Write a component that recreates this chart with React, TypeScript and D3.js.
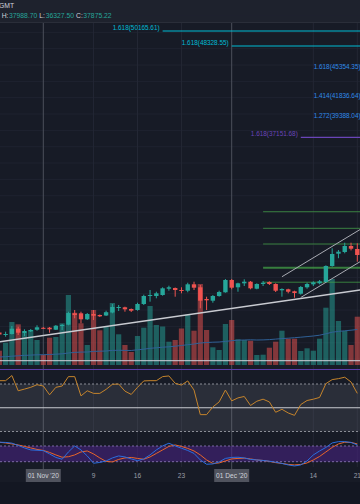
import React from "react";
import * as d3 from "d3";

// daily BTC candles, first one is 25 Oct 2020
const START = "2020-10-25";
const open = [13253, 12947, 13069, 13718, 13192, 13400, 13596, 13828, 13841, 13596, 14049, 14208, 15604, 15604, 14869, 15518, 15396, 15334, 15702, 16253, 16338, 16130, 16008, 16742, 17722, 17722, 17844, 18615, 18701, 18456, 18371, 19154, 18787, 17354, 17146, 17722, 18175, 19681, 18787, 19277, 19472, 18615, 19191, 19436, 19191, 18420, 18542, 18297, 18003, 18787, 19154, 19277, 19436, 21395, 22901, 23109, 23844, 23476];
const high = [13437, 13351, 14049, 13964, 13645, 13682, 14135, 13926, 13926, 14171, 14294, 15800, 16008, 15800, 15640, 16008, 15457, 15922, 16742, 16620, 16412, 16191, 16901, 17881, 18456, 18248, 18787, 18983, 18762, 18787, 19350, 19472, 19068, 17636, 17844, 18371, 19803, 19803, 19350, 19767, 19558, 19277, 19558, 19521, 19277, 18664, 18615, 18371, 18946, 19350, 19521, 19681, 21481, 23562, 23354, 24248, 24248, 24175];
const low = [12825, 12739, 13008, 12947, 12825, 13314, 13474, 13682, 13229, 13559, 13559, 14135, 14992, 14379, 14783, 14783, 15151, 15273, 15604, 15885, 15800, 15763, 15922, 16620, 17024, 17440, 17758, 18371, 17636, 18052, 18175, 18456, 16216, 16008, 16901, 17636, 18126, 18542, 18248, 18946, 18542, 18542, 18946, 19068, 18211, 17636, 18052, 17514, 17881, 18615, 18946, 19154, 19399, 21309, 22348, 22950, 23305, 21922];
const close = [13008, 13069, 13718, 13229, 13437, 13559, 13890, 13767, 13645, 14086, 14171, 15640, 15396, 14869, 15518, 15310, 15236, 15738, 16375, 16375, 16093, 15922, 16742, 17722, 17844, 18052, 18664, 18787, 18456, 18371, 19154, 18738, 17146, 17195, 17722, 18211, 19681, 18738, 19277, 19472, 18664, 19191, 19350, 19191, 18371, 18579, 18248, 18089, 18824, 19191, 19399, 19521, 21395, 22864, 23146, 23844, 23513, 22742];
const volume = [14.3, 22.3, 43, 40.7, 32.3, 35, 25, 10, 27.3, 28, 41.7, 70, 52.3, 41.7, 20, 55, 34.7, 38.7, 62, 30.7, 20, 13, 29, 37.3, 59, 40, 38.5, 23.3, 25, 36.5, 50.5, 34.3, 81, 35, 17.7, 15, 41, 45, 25.7, 25, 24.3, 10, 10.3, 17.3, 23.3, 34.3, 26.3, 26.3, 14, 16.7, 14.3, 26.3, 57.3, 86, 44, 34, 20, 48.3];
const volumeMA = [8.0, 8.3, 8.8, 9.2, 9.6, 9.9, 10.2, 10.3, 10.5, 10.8, 11.2, 12.0, 12.6, 12.9, 13.0, 13.6, 13.8, 14.0, 14.6, 14.7, 14.6, 14.5, 15.2, 15.8, 16.7, 17.2, 17.8, 18.2, 18.8, 19.5, 20.3, 21.0, 22.0, 22.5, 22.8, 23.0, 23.6, 24.3, 24.8, 25.0, 25.2, 25.0, 25.1, 25.4, 25.9, 26.4, 26.8, 27.3, 27.8, 28.4, 29.0, 29.8, 31.2, 32.8, 33.6, 34.2, 34.8, 35.5];
const rsi = [72.8, 72.8, 77.1, 64.3, 65.7, 67.2, 69.4, 68.3, 60.9, 67.2, 68.3, 76.2, 76.2, 60.0, 64.3, 62.1, 62.1, 65.5, 69.7, 70.0, 64.0, 61.2, 67.2, 72.6, 72.8, 72.8, 76.2, 76.8, 70.6, 69.1, 72.6, 64.9, 44.2, 44.2, 50.7, 54.9, 64.9, 55.8, 58.3, 59.5, 51.9, 55.5, 57.2, 54.9, 46.2, 48.7, 45.6, 43.6, 52.7, 56.1, 57.2, 58.7, 70.3, 73.7, 74.5, 75.7, 71.7, 62.1];
const stochK = [94.4, 93.6, 90.9, 82.2, 72.6, 65.0, 63.8, 62.3, 49.7, 36.3, 29.4, 57.3, 80.2, 65.0, 42.0, 14.1, 17.2, 22.9, 34.4, 42.0, 38.2, 30.6, 24.1, 30.6, 45.9, 65.0, 80.2, 90.6, 80.2, 71.5, 63.0, 51.6, 26.7, 10.3, 11.5, 19.1, 32.5, 36.3, 37.1, 34.4, 28.7, 26.7, 24.8, 21.8, 18.0, 13.4, 7.6, 3.8, 7.6, 22.9, 45.9, 61.1, 74.5, 91.7, 96.7, 96.7, 93.6, 84.1];
const stochD = [94.4, 91.7, 87.9, 84.1, 78.3, 72.6, 66.9, 63.0, 55.4, 45.9, 37.1, 39.0, 45.9, 57.3, 61.1, 49.7, 34.4, 21.0, 19.1, 28.7, 34.4, 36.3, 32.5, 29.4, 38.2, 51.6, 65.0, 78.3, 84.1, 78.3, 70.7, 61.1, 45.9, 26.7, 13.4, 15.3, 22.9, 30.6, 32.5, 33.6, 30.6, 26.7, 24.8, 21.0, 16.4, 13.4, 9.6, 7.6, 9.6, 15.3, 26.7, 40.1, 57.3, 74.5, 87.9, 94.4, 93.6, 87.9];

// fib extension levels drawn on the chart
const fibRatios = ["1.618", "1.618", "1.618", "1.414", "1.272", "1.618"];
const fibPrices = [50165.61, 48328.55, 45354.35, 41836.64, 39388.04, 37151.68];
const fibStarts = ["2020-11-20", "2020-12-01", "2020-12-22", "2020-12-22", "2020-12-22", "2020-12-12"];
const fibGroup = ["cyan", "cyan", "blue", "blue", "blue", "purple"];

// retracement levels (green)
const retracePrices = [28040, 26010, 24090, 21190, 19410];
const retraceStart = "2020-12-06";

// trend lines: [date, price] pairs
const supportLine: [string, number][] = [["2020-10-24", 12000], ["2020-12-22", 18520]];
const channelUpper: [string, number][] = [["2020-12-09", 20080], ["2020-12-22", 26120]];
const channelLower: [string, number][] = [["2020-12-12", 17540], ["2020-12-22", 22180]];
const flatLine = 9800;

const tickDates = ["2020-11-01", "2020-11-09", "2020-11-16", "2020-11-23", "2020-12-01", "2020-12-14", "2020-12-21"];
const tickLabels = ["01 Nov '20", "9", "16", "23", "01 Dec '20", "14", "21"];
const monthTicks = ["2020-11-01", "2020-12-01"];

const W = 360;
const H = 504;
const FONT = "'Liberation Sans', Arial, sans-serif";
const UP = "#26a69a";
const DOWN = "#ef5350";
const groupColor: Record<string, string> = { cyan: "#00bcd4", blue: "#2f8ae8", purple: "#6a45b8" };

const parse = d3.utcParse("%Y-%m-%d");
const dt = (s: string) => parse(s) as Date;
const dates = open.map((_, i) => d3.utcDay.offset(dt(START), i));

const x = d3.scaleUtc().domain([dt("2020-11-01"), dt("2020-12-01")]).range([43.3, 231.7]);
const y = d3.scaleLinear().domain([9152, 51268]).range([366, 22]);
const yVol = d3.scaleLinear().domain([0, 100]).range([365, 265]);
const yRsi = d3.scaleLinear().domain([30, 70]).range([431.5, 384]);
const yStoch = d3.scaleLinear().domain([20, 80]).range([461.7, 446]);

const seriesLine = (sy: d3.ScaleLinear<number, number>) =>
  d3.line<number>().x((_, i) => x(dates[i])).y((v) => sy(v));

export default function App() {
  const bodyW = 4.4;
  const volW = 5.2;
  const gridPrices = d3.range(10000, 52001, 2000);
  const weekTicks = tickDates.filter((t) => !monthTicks.includes(t));

  const seg = (pts: [string, number][]) => {
    const [a, b] = pts;
    return { x1: x(dt(a[0])), y1: y(a[1]), x2: x(dt(b[0])), y2: y(b[1]) };
  };

  return (
    <div style={{ position: "absolute", left: 0, top: 0 }}>
      <svg width={W} height={H} style={{ display: "block" }} fontFamily={FONT}>
        <defs>
          <clipPath id="mainClip">
            <rect x={0} y={22} width={W} height={344} />
          </clipPath>
        </defs>
        <rect width={W} height={H} fill="#171b26" />
        <rect width={W} height={22} fill="#1e222d" />
        <line x1={0} x2={W} y1={22.5} y2={22.5} stroke="#2a2e39" />
        <rect y={482} width={W} height={22} fill="#131722" />

        {/* horizontal grid */}
        {gridPrices.map((p) => (
          <line key={p} x1={0} x2={W} y1={y(p)} y2={y(p)} stroke="#1f2330" />
        ))}
        {/* vertical grid */}
        {weekTicks.map((t) => (
          <line key={t} x1={x(dt(t))} x2={x(dt(t))} y1={23} y2={467} stroke="#232734" />
        ))}
        {monthTicks.map((t) => (
          <line key={t} x1={x(dt(t))} x2={x(dt(t))} y1={23} y2={469} stroke="#4c4f5a" />
        ))}

        <g clipPath="url(#mainClip)">
          {/* volume */}
          {volume.map((v, i) => (
            <rect
              key={i}
              x={x(dates[i]) - volW / 2}
              y={yVol(v)}
              width={volW}
              height={yVol(0) - yVol(v)}
              fill={close[i] >= open[i] ? UP : DOWN}
              opacity={0.5}
            />
          ))}
          <path d={seriesLine(yVol)(volumeMA) ?? ""} fill="none" stroke="#2f6096" strokeWidth={1} />
          <line x1={0} x2={W} y1={y(flatLine)} y2={y(flatLine)} stroke="#d1d4dc" strokeWidth={1} />

          {/* retracement */}
          {retracePrices.map((p, i) => (
            <line
              key={p}
              x1={x(dt(retraceStart))}
              x2={W}
              y1={y(p)}
              y2={y(p)}
              stroke="#43a047"
              strokeOpacity={0.75}
              strokeWidth={i === 3 ? 2 : 1}
            />
          ))}

          {/* trend lines */}
          <line {...seg(supportLine)} stroke="#c9cbd1" strokeWidth={1.3} />
          <line {...seg(channelUpper)} stroke="#a9abb3" strokeWidth={1} />
          <line {...seg(channelLower)} stroke="#a9abb3" strokeWidth={1} />

          {/* candles */}
          {open.map((o, i) => {
            const c = close[i];
            const col = c >= o ? UP : DOWN;
            const cx = x(dates[i]);
            const top = y(Math.max(o, c));
            const bh = Math.max(1, y(Math.min(o, c)) - top);
            return (
              <g key={i}>
                <line x1={cx} x2={cx} y1={y(high[i])} y2={y(low[i])} stroke={col} strokeWidth={1} />
                <rect x={cx - bodyW / 2} y={top} width={bodyW} height={bh} fill={col} />
              </g>
            );
          })}

          {/* fib extensions */}
          {fibPrices.map((p, i) => {
            const col = groupColor[fibGroup[i]];
            const sx = x(dt(fibStarts[i]));
            return (
              <g key={p}>
                <line x1={sx} x2={W} y1={y(p)} y2={y(p)} stroke={col} strokeWidth={1.2} />
                <text x={sx - 3} y={y(p) - 1.2} textAnchor="end" fontSize={6.4} fill={col}>
                  {`${fibRatios[i]}(${p.toFixed(2)})`}
                </text>
              </g>
            );
          })}
        </g>

        {/* RSI pane */}
        <line x1={0} x2={W} y1={369.5} y2={369.5} stroke="#5b3fa8" strokeWidth={1} />
        <rect x={0} y={yRsi(70)} width={W} height={yRsi(30) - yRsi(70)} fill="#787b86" opacity={0.2} />
        <line x1={0} x2={W} y1={yRsi(70)} y2={yRsi(70)} stroke="#8a8d96" strokeDasharray="2,2" />
        <line x1={0} x2={W} y1={yRsi(30)} y2={yRsi(30)} stroke="#8a8d96" strokeDasharray="2,2" />
        <line x1={0} x2={W} y1={yRsi(50)} y2={yRsi(50)} stroke="#c9cbd1" strokeWidth={1} />
        <path d={seriesLine(yRsi)(rsi) ?? ""} fill="none" stroke="#c5842c" strokeWidth={1} />

        {/* Stoch RSI pane */}
        <rect x={0} y={yStoch(80)} width={W} height={yStoch(20) - yStoch(80)} fill="#4a2386" opacity={0.55} />
        <line x1={0} x2={W} y1={yStoch(80)} y2={yStoch(80)} stroke="#7d6aa6" strokeDasharray="2,2" />
        <line x1={0} x2={W} y1={yStoch(20)} y2={yStoch(20)} stroke="#7d6aa6" strokeDasharray="2,2" />
        <path d={seriesLine(yStoch)(stochD) ?? ""} fill="none" stroke="#e8652a" strokeWidth={1} />
        <path d={seriesLine(yStoch)(stochK) ?? ""} fill="none" stroke="#2a6ee0" strokeWidth={1} />

        {/* time axis */}
        {tickDates.map((t, i) => {
          const tx = x(dt(t));
          const boxed = monthTicks.includes(t);
          return (
            <g key={t}>
              {boxed && <rect x={tx - 17.5} y={469} width={35} height={13} fill="#50535e" />}
              <text x={tx} y={478} textAnchor="middle" fontSize={6.6} fill={boxed ? "#d1d4dc" : "#9a9da6"}>
                {tickLabels[i]}
              </text>
            </g>
          );
        })}

        {/* header */}
        <text x={-1} y={7.8} fontSize={6.8} fill="#d1d4dc">GMT</text>
        <text y={17.5} fontSize={6.8}>
          <tspan x={1.7} fill="#d1d4dc">H:</tspan>
          <tspan x={9} fill={UP}>37988.70</tspan>
          <tspan x={39.3} fill="#d1d4dc">L:</tspan>
          <tspan x={45.7} fill={UP}>36327.50</tspan>
          <tspan x={76} fill="#d1d4dc">C:</tspan>
          <tspan x={83.3} fill={UP}>37875.22</tspan>
        </text>
      </svg>
    </div>
  );
}
